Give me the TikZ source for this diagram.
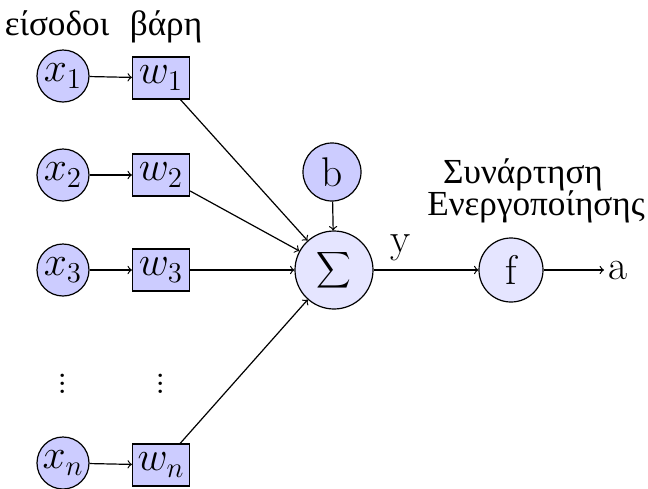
\documentclass[tikz,border=0pt]{standalone}
\usepackage{fontspec}
\usepackage{graphicx}
\newfontfamily\greek{Liberation Serif}
\newcommand{\grtext}{\greek\fontsize{17.6}{21}\selectfont}
\begin{document}
\begin{tikzpicture}[x=0.5pt,y=-0.5pt,
  font=\huge,
  line width=0.6pt,
  innode/.style={circle,draw,fill=blue!20,minimum size=26pt,inner sep=0pt},
  wbox/.style={rectangle,draw,fill=blue!20,minimum width=28.5pt,minimum height=21pt,inner sep=0pt},
  sumnode/.style={circle,draw,fill=blue!10,minimum size=39pt,inner sep=0pt},
  biasnode/.style={circle,draw,fill=blue!20,minimum size=29pt,inner sep=0pt},
  actnode/.style={circle,draw,fill=blue!10,minimum size=32pt,inner sep=0pt},
  heading/.style={anchor=base,inner sep=0pt,font=\grtext},
  conn/.style={->}]
\useasboundingbox (0,0) rectangle (648,488);

% column headings
\node[heading] (hin) at (57,35) {είσοδοι};
\node[heading] (hw) at (166,35) {βάρη};

% inputs and weights
\node[innode] (x1) at (63,76) {$x_1$};
\node[innode] (x2) at (63,175) {$x_2$};
\node[innode] (x3) at (63,270) {$x_3$};
\node[innode] (xn) at (63,463) {$x_n$};
\node[wbox] (w1) at (161,78) {$w_1$};
\node[wbox] (w2) at (161,175) {$w_2$};
\node[wbox] (w3) at (161,270) {$w_3$};
\node[wbox] (wn) at (161,465) {$w_n$};
\node (dx) at (63,378) {$\vdots$};
\node (dw) at (161,378) {$\vdots$};

% summation, bias, activation
\node[sumnode] (sum) at (334,270) {\scalebox{1.2}[1.27]{$\displaystyle\sum$}};
\node[biasnode] (b) at (332,172) {b};
\node[actnode] (f) at (511,270) {f};
\coordinate (out) at (604,270);
\node[anchor=west,inner sep=2pt] (a) at (out) {a};
\node[anchor=base] (ylab) at (401,252) {y};
\node[heading] (act1) at (523,183) {Συνάρτηση};
\node[heading] (act2) at (536,215) {Ενεργοποίησης};

% connectors
\foreach \i in {1,2,3,n} {
  \draw[conn] (x\i) -- (w\i);
  \draw[conn] (w\i) -- (sum);
}
\draw[conn] (b) -- (sum);
\draw[conn] (sum) -- (f);
\draw[conn] (f) -- (out);
\end{tikzpicture}
\end{document}
